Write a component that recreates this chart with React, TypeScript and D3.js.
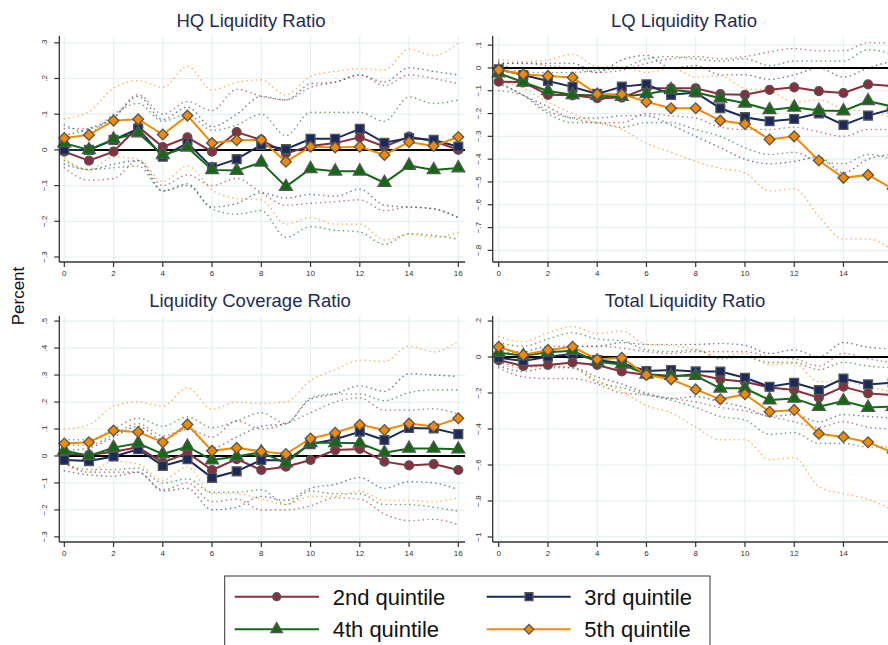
import React from 'react';
import * as d3 from 'd3';

// Horizons (quarters after the shock)
const horizon = [0, 1, 2, 3, 4, 5, 6, 7, 8, 9, 10, 11, 12, 13, 14, 15, 16];
const xTicks = [0, 2, 4, 6, 8, 10, 12, 14, 16];

const quintiles = ['2nd quintile', '3rd quintile', '4th quintile', '5th quintile'];
const colors = ['#8a2e3b', '#1b2a5c', '#126b12', '#f08a00'];

// HQ Liquidity Ratio
const hqTicks = [0.3, 0.2, 0.1, 0, -0.1, -0.2, -0.3];
const hqQ2 = [-0.005, -0.03, -0.005, 0.065, 0.008, 0.035, -0.005, 0.05, 0.028, -0.01, 0.011, 0.019, 0.035, 0.009, 0.037, 0.025, 0.0];
const hqQ3 = [0.0, 0.0, 0.028, 0.059, -0.019, 0.019, -0.049, -0.026, 0.014, 0.002, 0.031, 0.031, 0.059, 0.02, 0.033, 0.028, 0.009];
const hqQ4 = [0.019, 0.0, 0.03, 0.047, -0.014, 0.007, -0.056, -0.058, -0.035, -0.103, -0.053, -0.06, -0.06, -0.092, -0.044, -0.056, -0.051];
const hqQ5 = [0.033, 0.042, 0.082, 0.086, 0.043, 0.096, 0.019, 0.027, 0.028, -0.033, 0.009, 0.007, 0.009, -0.014, 0.022, 0.011, 0.036];
const hqQ2Hi = [0.06, 0.06, 0.09, 0.155, 0.1, 0.135, 0.11, 0.17, 0.15, 0.14, 0.175, 0.19, 0.21, 0.18, 0.21, 0.2, 0.185];
const hqQ2Lo = [-0.05, -0.085, -0.08, -0.03, -0.1, -0.07, -0.1, -0.08, -0.12, -0.155, -0.15, -0.145, -0.14, -0.17, -0.16, -0.165, -0.19];
const hqQ3Hi = [0.04, 0.06, 0.09, 0.15, 0.085, 0.12, 0.065, 0.1, 0.15, 0.14, 0.185, 0.19, 0.21, 0.19, 0.23, 0.22, 0.21];
const hqQ3Lo = [-0.04, -0.055, -0.04, -0.03, -0.115, -0.095, -0.16, -0.15, -0.12, -0.135, -0.125, -0.13, -0.11, -0.155, -0.16, -0.165, -0.19];
const hqQ4Hi = [0.07, 0.05, 0.1, 0.13, 0.08, 0.1, 0.055, 0.07, 0.1, 0.04, 0.105, 0.105, 0.105, 0.08, 0.148, 0.13, 0.14];
const hqQ4Lo = [-0.03, -0.055, -0.05, -0.045, -0.115, -0.1, -0.165, -0.18, -0.17, -0.245, -0.215, -0.225, -0.23, -0.265, -0.235, -0.24, -0.25];
const hqQ5Hi = [0.087, 0.107, 0.173, 0.194, 0.175, 0.234, 0.168, 0.189, 0.196, 0.154, 0.206, 0.22, 0.227, 0.224, 0.282, 0.264, 0.3];
const hqQ5Lo = [-0.023, -0.056, -0.02, -0.025, -0.089, -0.045, -0.112, -0.136, -0.14, -0.208, -0.19, -0.208, -0.208, -0.252, -0.236, -0.245, -0.231];

// LQ Liquidity Ratio
const lqTicks = [0.1, 0, -0.1, -0.2, -0.3, -0.4, -0.5, -0.6, -0.7, -0.8];
const lqQ2 = [-0.06, -0.063, -0.118, -0.12, -0.133, -0.13, -0.089, -0.089, -0.089, -0.115, -0.118, -0.096, -0.085, -0.102, -0.11, -0.072, -0.079];
const lqQ3 = [-0.006, -0.031, -0.057, -0.083, -0.114, -0.082, -0.072, -0.118, -0.108, -0.177, -0.216, -0.234, -0.224, -0.199, -0.25, -0.209, -0.18];
const lqQ4 = [-0.023, -0.063, -0.101, -0.118, -0.121, -0.126, -0.114, -0.096, -0.107, -0.133, -0.155, -0.184, -0.173, -0.187, -0.189, -0.145, -0.17];
const lqQ5 = [-0.009, -0.028, -0.035, -0.042, -0.115, -0.115, -0.149, -0.177, -0.177, -0.231, -0.246, -0.314, -0.3, -0.406, -0.482, -0.469, -0.53];
const lqQ2Hi = [0.02, 0.02, 0.01, 0.0, -0.02, -0.01, 0.02, 0.04, 0.05, 0.04, 0.05, 0.07, 0.085, 0.075, 0.075, 0.11, 0.11];
const lqQ2Lo = [-0.1, -0.12, -0.19, -0.22, -0.24, -0.24, -0.2, -0.21, -0.22, -0.26, -0.27, -0.27, -0.26, -0.28, -0.3, -0.27, -0.27];
const lqQ3Hi = [0.02, 0.02, 0.02, 0.02, -0.02, 0.035, 0.055, 0.0, 0.01, -0.03, -0.03, -0.05, -0.03, 0.0, -0.04, 0.0, 0.03];
const lqQ3Lo = [-0.06, -0.12, -0.17, -0.22, -0.22, -0.21, -0.21, -0.25, -0.3, -0.35, -0.4, -0.42, -0.41, -0.39, -0.46, -0.4, -0.38];
const lqQ4Hi = [0.03, -0.02, -0.02, -0.02, -0.01, 0.0, 0.04, 0.05, 0.04, 0.03, 0.04, 0.01, 0.03, 0.03, 0.03, 0.08, 0.06];
const lqQ4Lo = [-0.07, -0.12, -0.2, -0.24, -0.24, -0.26, -0.24, -0.24, -0.27, -0.3, -0.35, -0.38, -0.37, -0.41, -0.42, -0.38, -0.4];
const lqQ5Hi = [0.038, 0.028, 0.035, 0.06, 0.005, 0.005, -0.02, 0.0, -0.04, -0.035, -0.09, -0.1, -0.15, -0.14, -0.18, -0.19, -0.22];
const lqQ5Lo = [-0.06, -0.09, -0.15, -0.2, -0.24, -0.27, -0.33, -0.37, -0.41, -0.44, -0.46, -0.54, -0.53, -0.65, -0.75, -0.75, -0.8];

// Liquidity Coverage Ratio
const lcrTicks = [0.5, 0.4, 0.3, 0.2, 0.1, 0, -0.1, -0.2, -0.3];
const lcrQ2 = [0.007, 0.004, 0.016, 0.032, -0.025, 0.012, -0.052, -0.012, -0.052, -0.04, -0.015, 0.022, 0.026, -0.021, -0.035, -0.03, -0.052];
const lcrQ3 = [-0.015, -0.019, -0.002, 0.025, -0.037, -0.012, -0.081, -0.057, -0.015, -0.017, 0.044, 0.062, 0.09, 0.059, 0.104, 0.102, 0.081];
const lcrQ4 = [0.02, 0.0, 0.031, 0.047, 0.007, 0.035, -0.015, -0.002, 0.014, -0.027, 0.049, 0.049, 0.047, 0.012, 0.028, 0.028, 0.025];
const lcrQ5 = [0.046, 0.051, 0.094, 0.089, 0.051, 0.117, 0.019, 0.03, 0.017, 0.007, 0.065, 0.086, 0.116, 0.096, 0.12, 0.109, 0.14];
const lcrQ2Hi = [0.04, 0.04, 0.08, 0.12, 0.075, 0.1, 0.07, 0.13, 0.1, 0.12, 0.16, 0.2, 0.215, 0.17, 0.17, 0.175, 0.155];
const lcrQ2Lo = [-0.025, -0.06, -0.06, -0.06, -0.125, -0.1, -0.17, -0.16, -0.2, -0.2, -0.185, -0.155, -0.16, -0.215, -0.24, -0.235, -0.255];
const lcrQ3Hi = [0.02, 0.03, 0.07, 0.11, 0.06, 0.1, 0.03, 0.07, 0.11, 0.12, 0.21, 0.23, 0.26, 0.24, 0.305, 0.3, 0.295];
const lcrQ3Lo = [-0.055, -0.07, -0.075, -0.06, -0.13, -0.12, -0.2, -0.19, -0.15, -0.165, -0.12, -0.105, -0.08, -0.12, -0.095, -0.1, -0.125];
const lcrQ4Hi = [0.06, 0.06, 0.1, 0.14, 0.11, 0.145, 0.105, 0.13, 0.16, 0.12, 0.215, 0.23, 0.23, 0.205, 0.235, 0.245, 0.245];
const lcrQ4Lo = [-0.03, -0.05, -0.05, -0.045, -0.1, -0.085, -0.135, -0.135, -0.125, -0.18, -0.13, -0.14, -0.14, -0.18, -0.18, -0.19, -0.205];
const lcrQ5Hi = [0.1, 0.115, 0.185, 0.2, 0.185, 0.253, 0.173, 0.2, 0.195, 0.2, 0.28, 0.32, 0.355, 0.35, 0.407, 0.386, 0.426];
const lcrQ5Lo = [-0.03, -0.06, -0.02, -0.03, -0.09, -0.04, -0.14, -0.14, -0.16, -0.18, -0.15, -0.15, -0.13, -0.165, -0.165, -0.17, -0.155];

// Total Liquidity Ratio
const tlrTicks = [0.2, 0, -0.2, -0.4, -0.6, -0.8, -1];
const tlrQ2 = [-0.017, -0.05, -0.044, -0.03, -0.044, -0.08, -0.1, -0.109, -0.094, -0.124, -0.137, -0.169, -0.183, -0.226, -0.165, -0.202, -0.211];
const tlrQ3 = [-0.004, -0.022, 0.002, 0.017, -0.017, -0.035, -0.078, -0.072, -0.08, -0.081, -0.115, -0.165, -0.143, -0.183, -0.12, -0.152, -0.143];
const tlrQ4 = [0.024, 0.007, 0.026, 0.035, -0.026, -0.041, -0.096, -0.104, -0.104, -0.174, -0.174, -0.239, -0.23, -0.276, -0.244, -0.281, -0.276];
const tlrQ5 = [0.057, 0.011, 0.039, 0.057, -0.013, -0.004, -0.1, -0.124, -0.18, -0.235, -0.207, -0.304, -0.294, -0.426, -0.444, -0.474, -0.53];
const tlrQ2Hi = [0.03, 0.02, 0.03, 0.06, 0.06, 0.05, 0.03, 0.02, 0.03, 0.03, 0.03, 0.0, -0.01, -0.05, 0.02, -0.01, -0.03];
const tlrQ2Lo = [-0.06, -0.11, -0.12, -0.12, -0.15, -0.2, -0.21, -0.23, -0.25, -0.28, -0.3, -0.33, -0.36, -0.39, -0.36, -0.39, -0.4];
const tlrQ3Hi = [0.04, 0.03, 0.06, 0.06, 0.06, 0.08, 0.07, 0.07, 0.07, 0.075, 0.065, 0.02, 0.04, 0.0, 0.08, 0.055, 0.045];
const tlrQ3Lo = [-0.05, -0.08, -0.06, -0.06, -0.11, -0.15, -0.2, -0.23, -0.22, -0.25, -0.28, -0.33, -0.32, -0.36, -0.32, -0.33, -0.34];
const tlrQ4Hi = [0.08, 0.06, 0.1, 0.135, 0.1, 0.09, 0.04, 0.03, 0.04, -0.01, 0.0, -0.03, -0.03, -0.07, -0.03, -0.05, -0.06];
const tlrQ4Lo = [-0.03, -0.05, -0.05, -0.06, -0.14, -0.17, -0.21, -0.24, -0.28, -0.33, -0.35, -0.43, -0.42, -0.48, -0.48, -0.5, -0.5];
const tlrQ5Hi = [0.113, 0.085, 0.135, 0.169, 0.131, 0.144, 0.07, 0.063, 0.043, 0.002, 0.02, -0.044, -0.035, -0.137, -0.133, -0.165, -0.193];
const tlrQ5Lo = [-0.044, -0.06, -0.05, -0.06, -0.13, -0.19, -0.27, -0.31, -0.39, -0.46, -0.46, -0.57, -0.56, -0.72, -0.76, -0.79, -0.85];

const FONT = "'Liberation Sans', Arial, Helvetica, sans-serif";
const WIDTH = 888;
const HEIGHT = 645;
const symbols = [d3.symbolCircle, d3.symbolSquare, d3.symbolTriangle, d3.symbolSquare];
const symbolSizes = [62, 78, 72, 58];
const symbolRotate = [0, 0, 0, 45];

// Stata-style tick labels: .3, -.1, 0, -1
const stataFmt = (v: number) => {
  if (Math.abs(v) < 1e-9) return '0';
  return d3.format('.1f')(v).replace('0.', '.').replace('.0', '');
};

const Marker = ({i, x, y, scale = 1}: {i: number; x: number; y: number; scale?: number}) => (
  <path
    d={d3.symbol(symbols[i], symbolSizes[i] * scale)() || ''}
    transform={`translate(${x},${y}) rotate(${symbolRotate[i]})`}
    fill={colors[i]}
    stroke="#555"
    strokeWidth={1.3}
  />
);

interface PanelProps {
  title: string;
  titleX: number;
  left: number;
  right: number;
  top: number;
  bottom: number;
  x0: number;
  x16: number;
  yDomain: [number, number];
  ticks: number[];
  mid: number[][];
  hi: number[][];
  lo: number[][];
}

const Panel = (p: PanelProps) => {
  const x = d3.scaleLinear().domain([0, 16]).range([p.x0, p.x16]);
  const y = d3.scaleLinear().domain(p.yDomain).range([p.bottom, p.top]);
  const line = d3
    .line<number>()
    .x((_, i) => x(horizon[i]))
    .y((d) => y(d));
  const ciLine = d3
    .line<number>()
    .x((_, i) => x(horizon[i]))
    .y((d) => y(d))
    .curve(d3.curveMonotoneX);

  const dotted = {
    fill: 'none',
    strokeOpacity: 0.6,
    strokeWidth: 1.6,
    strokeDasharray: '0.1 4.6',
    strokeLinecap: 'round' as const,
  };

  return (
    <g>
      <text x={p.titleX} y={p.top - 9} textAnchor="middle" fontSize={18.5} fill="#1e2d4f" fontFamily={FONT}>
        {p.title}
      </text>
      {/* grid */}
      {xTicks.map((t) => (
        <line key={'gx' + t} x1={x(t)} x2={x(t)} y1={p.top} y2={p.bottom} stroke="#e6eff1" strokeWidth={1.2} />
      ))}
      {p.ticks.map((t) => (
        <line key={'gy' + t} x1={p.left} x2={p.right} y1={y(t)} y2={y(t)} stroke="#e6eff1" strokeWidth={1.2} />
      ))}
      {/* confidence bands */}
      {p.hi.map((s, i) => (
        <path key={'hi' + i} d={ciLine(s) || ''} stroke={colors[i]} {...dotted} />
      ))}
      {p.lo.map((s, i) => (
        <path key={'lo' + i} d={ciLine(s) || ''} stroke={colors[i]} {...dotted} />
      ))}
      {/* zero line */}
      <line x1={p.left} x2={p.right} y1={y(0)} y2={y(0)} stroke="#000" strokeWidth={2} />
      {/* point estimates */}
      {p.mid.map((s, i) => (
        <path key={'m' + i} d={line(s) || ''} fill="none" stroke={colors[i]} strokeWidth={2} />
      ))}
      {p.mid.map((s, i) => (
        <g key={'mk' + i}>
          {s.map((v, j) => (
            <Marker key={j} i={i} x={x(horizon[j])} y={y(v)} />
          ))}
        </g>
      ))}
      {/* axes */}
      <line x1={p.left} x2={p.left} y1={p.top} y2={p.bottom} stroke="#333" strokeWidth={1.3} />
      <line x1={p.left} x2={p.right} y1={p.bottom} y2={p.bottom} stroke="#333" strokeWidth={1.3} />
      {p.ticks.map((t) => (
        <g key={'ty' + t}>
          <line x1={p.left - 5} x2={p.left} y1={y(t)} y2={y(t)} stroke="#333" strokeWidth={1.2} />
          <text
            transform={`translate(${p.left - 12},${y(t)}) rotate(-90)`}
            textAnchor="middle"
            fontSize={8}
            fill="#333"
            fontFamily={FONT}
          >
            {stataFmt(t)}
          </text>
        </g>
      ))}
      {xTicks.map((t) => (
        <g key={'tx' + t}>
          <line x1={x(t)} x2={x(t)} y1={p.bottom} y2={p.bottom + 5} stroke="#333" strokeWidth={1.2} />
          {/* labels past the page edge are not shown in the original */}
          {x(t) < WIDTH - 4 && (
            <text x={x(t)} y={p.bottom + 14} textAnchor="middle" fontSize={8} fill="#333" fontFamily={FONT}>
              {t}
            </text>
          )}
        </g>
      ))}
    </g>
  );
};

const Legend = () => {
  const cols = [
    {lineX: [234.7, 319], markX: 276.7, textX: 332.7},
    {lineX: [486.7, 570.7], markX: 529, textX: 584.3},
  ];
  const rows = [596.7, 629.3];
  return (
    <g>
      <rect x={224.7} y={576} width={485.3} height={90} fill="#fff" stroke="#333" strokeWidth={1} />
      {quintiles.map((q, i) => {
        const c = cols[i % 2];
        const cy = rows[Math.floor(i / 2)];
        return (
          <g key={q}>
            <line x1={c.lineX[0]} x2={c.lineX[1]} y1={cy} y2={cy} stroke={colors[i]} strokeWidth={2} />
            <Marker i={i} x={c.markX} y={cy} scale={0.8} />
            <text x={c.textX} y={cy + 8} fontSize={22} fill="#111" fontFamily={FONT}>
              {q}
            </text>
          </g>
        );
      })}
    </g>
  );
};

export default function App() {
  return (
    <svg width={WIDTH} height={HEIGHT} style={{position: 'absolute', left: 0, top: 0, background: '#fff'}}>
      <rect width={WIDTH} height={HEIGHT} fill="#fff" />
      <Panel
        title="HQ Liquidity Ratio" titleX={251}
        left={59.3} right={465} top={36} bottom={262} x0={64.3} x16={458.3}
        yDomain={[-0.314, 0.319]} ticks={hqTicks}
        mid={[hqQ2, hqQ3, hqQ4, hqQ5]}
        hi={[hqQ2Hi, hqQ3Hi, hqQ4Hi, hqQ5Hi]}
        lo={[hqQ2Lo, hqQ3Lo, hqQ4Lo, hqQ5Lo]}
      />
      <Panel
        title="LQ Liquidity Ratio" titleX={684}
        left={492.7} right={899} top={36} bottom={262} x0={498.7} x16={892.7}
        yDomain={[-0.851, 0.14]} ticks={lqTicks}
        mid={[lqQ2, lqQ3, lqQ4, lqQ5]}
        hi={[lqQ2Hi, lqQ3Hi, lqQ4Hi, lqQ5Hi]}
        lo={[lqQ2Lo, lqQ3Lo, lqQ4Lo, lqQ5Lo]}
      />
      <Panel
        title="Liquidity Coverage Ratio" titleX={250}
        left={59.3} right={465} top={316} bottom={542} x0={64.3} x16={458.3}
        yDomain={[-0.319, 0.519]} ticks={lcrTicks}
        mid={[lcrQ2, lcrQ3, lcrQ4, lcrQ5]}
        hi={[lcrQ2Hi, lcrQ3Hi, lcrQ4Hi, lcrQ5Hi]}
        lo={[lcrQ2Lo, lcrQ3Lo, lcrQ4Lo, lcrQ5Lo]}
      />
      <Panel
        title="Total Liquidity Ratio" titleX={685}
        left={492.7} right={899} top={316} bottom={542} x0={498.7} x16={892.7}
        yDomain={[-1.028, 0.228]} ticks={tlrTicks}
        mid={[tlrQ2, tlrQ3, tlrQ4, tlrQ5]}
        hi={[tlrQ2Hi, tlrQ3Hi, tlrQ4Hi, tlrQ5Hi]}
        lo={[tlrQ2Lo, tlrQ3Lo, tlrQ4Lo, tlrQ5Lo]}
      />
      <text transform="translate(24,296) rotate(-90)" textAnchor="middle" fontSize={17} fill="#111" fontFamily={FONT}>
        Percent
      </text>
      <Legend />
    </svg>
  );
}
